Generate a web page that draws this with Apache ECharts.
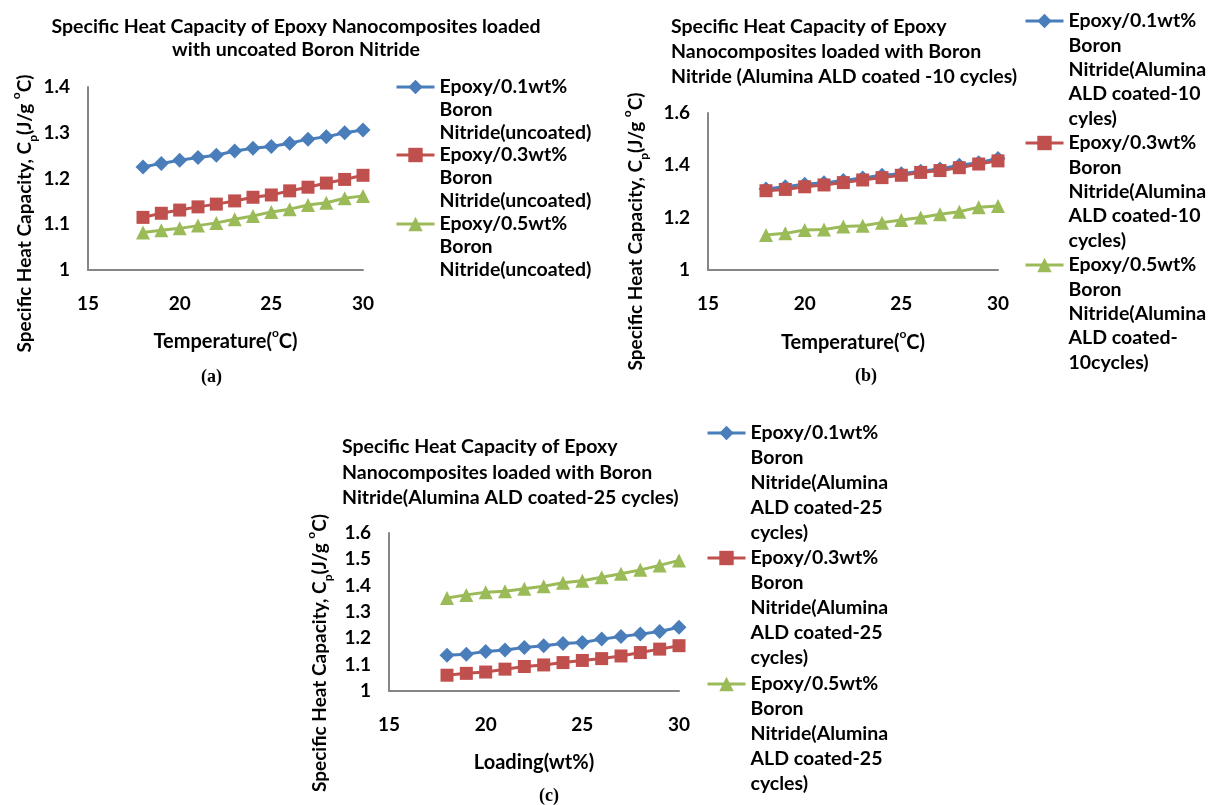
<!DOCTYPE html>
<html>
<head>
<meta charset="utf-8">
<script src="https://cdn.jsdelivr.net/npm/echarts@6/dist/echarts.min.js"></script>
<style>
html,body{margin:0;padding:0;background:#fff;}
#main{width:1210px;height:805px;}
</style>
</head>
<body>
<div id="main"></div>
<script>
// temperature / loading values on the x axis (same for all 3 panels)
var xVals = [18, 19, 20, 21, 22, 23, 24, 25, 26, 27, 28, 29, 30];

// (a) uncoated BN
var a01 = [1.225, 1.233, 1.240, 1.246, 1.251, 1.260, 1.266, 1.270, 1.277, 1.286, 1.291, 1.300, 1.306];
var a03 = [1.115, 1.124, 1.131, 1.138, 1.144, 1.151, 1.159, 1.164, 1.173, 1.181, 1.190, 1.198, 1.207];
var a05 = [1.082, 1.087, 1.091, 1.097, 1.103, 1.111, 1.118, 1.127, 1.133, 1.142, 1.147, 1.157, 1.162];
// (b) ALD 10 cycles
var b01 = [1.310, 1.318, 1.328, 1.333, 1.342, 1.352, 1.362, 1.368, 1.377, 1.386, 1.400, 1.410, 1.426];
var b03 = [1.303, 1.308, 1.318, 1.325, 1.334, 1.344, 1.353, 1.362, 1.373, 1.380, 1.391, 1.405, 1.417];
var b05 = [1.134, 1.140, 1.153, 1.155, 1.166, 1.169, 1.181, 1.191, 1.201, 1.213, 1.223, 1.240, 1.245];
// (c) ALD 25 cycles
var c01 = [1.136, 1.140, 1.150, 1.156, 1.165, 1.172, 1.180, 1.184, 1.197, 1.207, 1.216, 1.226, 1.242];
var c03 = [1.060, 1.067, 1.072, 1.083, 1.093, 1.099, 1.108, 1.116, 1.123, 1.133, 1.146, 1.159, 1.172];
var c05 = [1.353, 1.365, 1.375, 1.379, 1.388, 1.398, 1.411, 1.419, 1.432, 1.445, 1.460, 1.477, 1.496];

var namesA = ['Epoxy/0.1wt%\nBoron\nNitride(uncoated)', 'Epoxy/0.3wt%\nBoron\nNitride(uncoated)', 'Epoxy/0.5wt%\nBoron\nNitride(uncoated)'];
var namesB = ['Epoxy/0.1wt%\nBoron\nNitride(Alumina\nALD coated-10\ncyles)', 'Epoxy/0.3wt%\nBoron\nNitride(Alumina\nALD coated-10\ncycles)', 'Epoxy/0.5wt%\nBoron\nNitride(Alumina\nALD coated-\n10cycles)'];
var namesC = ['Epoxy/0.1wt%\nBoron\nNitride(Alumina\nALD coated-25\ncycles)', 'Epoxy/0.3wt%\nBoron\nNitride(Alumina\nALD coated-25\ncycles)', 'Epoxy/0.5wt%\nBoron\nNitride(Alumina\nALD coated-25\ncycles)'];

var colors = ['#4a7ebb', '#c0504d', '#9bbb59'];
var symbols = ['diamond', 'rect', 'triangle'];
var symSizes = [15, 13, 14];
var FONT = 'Lato';

function pairs(ys) {
    var out = [];
    for (var i = 0; i < xVals.length; i++) {
        out.push([xVals[i], ys[i]]);
    }
    return out;
}

function mkSeries(name, ys, k, idx) {
    return {
        name: name,
        type: 'line',
        xAxisIndex: idx,
        yAxisIndex: idx,
        data: pairs(ys),
        symbol: symbols[k],
        symbolSize: symSizes[k],
        lineStyle: {color: colors[k], width: 3},
        itemStyle: {color: colors[k]},
        animation: false
    };
}

// one legend per series; blank lines in front so the marker sits at the first text line
function mkLegend(name, left, firstY, lh) {
    var lines = name.split('\n').length;
    return {
        data: [name],
        left: left,
        top: firstY - (2 * lines - 1) * lh / 2,
        padding: 0,
        itemWidth: 38,
        itemHeight: 18,
        itemGap: 0,
        selectedMode: false,
        lineStyle: {width: 3},
        formatter: function (n) {
            var pre = '';
            for (var i = 1; i < lines; i++) pre += '\n';
            return pre + n;
        },
        textStyle: {fontFamily: FONT, fontWeight: 'bold', fontSize: 19.5, color: '#000', lineHeight: lh}
    };
}

var axisLbl = {fontFamily: FONT, fontWeight: 'bold', fontSize: 19, color: '#000'};
var axLine = {show: true, lineStyle: {color: '#868686', width: 2}};
var richName = {
    sub: {fontFamily: FONT, fontWeight: 'bold', fontSize: 12, verticalAlign: 'bottom', padding: [0, 0, -5, 0]},
    sup: {fontFamily: FONT, fontWeight: 'bold', fontSize: 12, verticalAlign: 'top', padding: [-5, 0, 0, 0]}
};

function xAx(idx, name, gap) {
    return {
        type: 'value', gridIndex: idx, min: 15, max: 30, interval: 5,
        axisLine: axLine, axisTick: {show: false}, splitLine: {show: false},
        axisLabel: Object.assign({margin: 24}, axisLbl),
        name: name, nameLocation: 'middle', nameGap: gap,
        nameTextStyle: {fontFamily: FONT, fontWeight: 'bold', fontSize: 20, color: '#000', rich: richName}
    };
}
// shift: padding that pushes the rotated title down the page by shift/2
function yAx(idx, max, step, gap, shift) {
    return {
        type: 'value', gridIndex: idx, min: 1, max: max, interval: step,
        axisLine: axLine, axisTick: {show: false}, splitLine: {show: false},
        axisLabel: Object.assign({margin: 18, formatter: function (v) { return String(+v.toFixed(1)); }}, axisLbl),
        name: 'Specific Heat Capacity, C{sub|p}(J/g {sup|o}C)',
        nameLocation: 'middle', nameGap: gap, nameRotate: 90,
        nameTextStyle: {fontFamily: FONT, fontWeight: 'bold', fontSize: 19, color: '#000',
            padding: [0, shift, 0, 0], rich: richName}
    };
}

var titleStyle = {fontFamily: FONT, fontWeight: 'bold', fontSize: 19.5, color: '#000'};

var option = {
    backgroundColor: '#fff',
    title: [
        {text: 'Specific Heat Capacity of Epoxy Nanocomposites loaded\nwith uncoated Boron Nitride',
            left: 296, top: 15, textAlign: 'center', padding: 0,
            textStyle: Object.assign({lineHeight: 23}, titleStyle)},
        {text: 'Specific Heat Capacity of Epoxy\nNanocomposites loaded with Boron\nNitride (Alumina ALD coated -10 cycles)',
            left: 671, top: 14, padding: 0,
            textStyle: Object.assign({lineHeight: 25}, titleStyle)},
        {text: 'Specific Heat Capacity of Epoxy\nNanocomposites loaded with Boron\nNitride(Alumina ALD coated-25 cycles)',
            left: 342, top: 434, padding: 0,
            textStyle: Object.assign({lineHeight: 25.5}, titleStyle)}
    ],
    legend: [
        mkLegend(namesA[0], 395, 87, 23),
        mkLegend(namesA[1], 395, 155, 23),
        mkLegend(namesA[2], 395, 224, 23),
        mkLegend(namesB[0], 1024, 21, 24.4),
        mkLegend(namesB[1], 1024, 143, 24.4),
        mkLegend(namesB[2], 1024, 265, 24.4),
        mkLegend(namesC[0], 706, 433, 25),
        mkLegend(namesC[1], 706, 558, 25),
        mkLegend(namesC[2], 706, 684, 25)
    ],
    grid: [
        {left: 88, top: 87, width: 275, height: 183},
        {left: 708, top: 113, width: 290, height: 157},
        {left: 389, top: 533, width: 290, height: 158}
    ],
    xAxis: [
        xAx(0, 'Temperature({sup|o}C)', 62),
        xAx(1, 'Temperature({sup|o}C)', 63),
        xAx(2, 'Loading(wt%)', 62)
    ],
    yAxis: [
        yAx(0, 1.4, 0.1, 54, 70),
        yAx(1, 1.6, 0.2, 63, 80),
        yAx(2, 1.6, 0.1, 60, 82)
    ],
    series: [
        mkSeries(namesA[0], a01, 0, 0),
        mkSeries(namesA[1], a03, 1, 0),
        mkSeries(namesA[2], a05, 2, 0),
        mkSeries(namesB[0], b01, 0, 1),
        mkSeries(namesB[1], b03, 1, 1),
        mkSeries(namesB[2], b05, 2, 1),
        mkSeries(namesC[0], c01, 0, 2),
        mkSeries(namesC[1], c03, 1, 2),
        mkSeries(namesC[2], c05, 2, 2)
    ],
    graphic: [
        {type: 'text', left: 201, top: 368, style: {text: '(a)', font: 'bold 18px "Liberation Serif"', fill: '#000'}},
        {type: 'text', left: 855, top: 367, style: {text: '(b)', font: 'bold 18px "Liberation Serif"', fill: '#000'}},
        {type: 'text', left: 539, top: 787, style: {text: '(c)', font: 'bold 18px "Liberation Serif"', fill: '#000'}}
    ]
};

var myChart = echarts.init(document.getElementById('main'));
myChart.setOption(option);
window.onresize = myChart.resize;
</script>
</body>
</html>
